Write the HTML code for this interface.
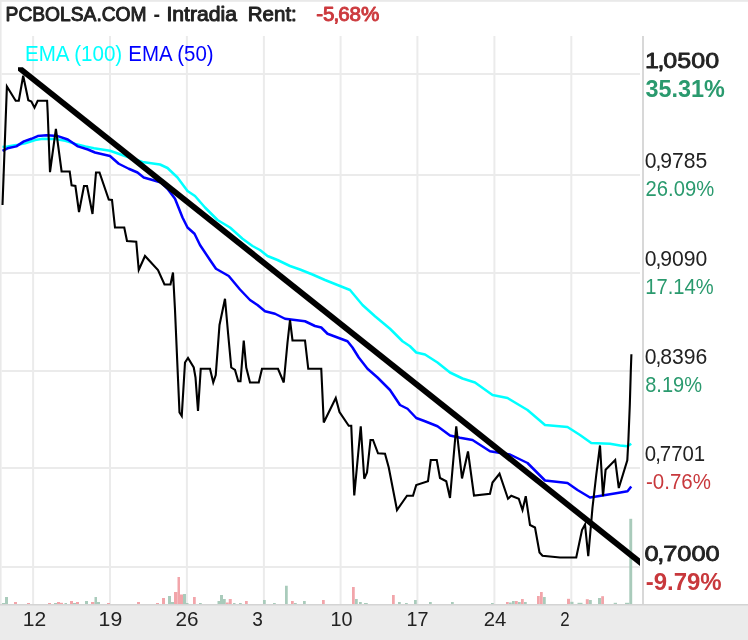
<!DOCTYPE html>
<html><head><meta charset="utf-8"><title>PCBOLSA.COM - Intradia</title>
<style>html,body{margin:0;padding:0;background:#fff;overflow:hidden}svg{display:block}</style></head>
<body>
<svg width="748" height="640" viewBox="0 0 748 640" font-family="'Liberation Sans', sans-serif">
<rect width="748" height="640" fill="#fff"/>
<rect x="0" y="0" width="748" height="1.8" fill="#e9e9e9"/>
<rect x="0" y="0" width="1.6" height="605" fill="#e9e9e9"/>
<g stroke="#ebebeb" stroke-width="2" fill="none">
<line x1="33.1" y1="36" x2="33.1" y2="604.5"/>
<line x1="110" y1="36" x2="110" y2="604.5"/>
<line x1="186.9" y1="36" x2="186.9" y2="604.5"/>
<line x1="263.9" y1="36" x2="263.9" y2="604.5"/>
<line x1="340.6" y1="36" x2="340.6" y2="604.5"/>
<line x1="417.4" y1="36" x2="417.4" y2="604.5"/>
<line x1="494.4" y1="36" x2="494.4" y2="604.5"/>
<line x1="571.3" y1="36" x2="571.3" y2="604.5"/>
<line x1="1.6" y1="74.1" x2="640" y2="74.1"/>
<line x1="1.6" y1="175.0" x2="640" y2="175.0"/>
<line x1="1.6" y1="273.0" x2="640" y2="273.0"/>
<line x1="1.6" y1="371.0" x2="640" y2="371.0"/>
<line x1="1.6" y1="467.9" x2="640" y2="467.9"/>
<line x1="1.6" y1="567.0" x2="640" y2="567.0"/>
</g>
<g>
<rect x="2" y="603" width="3" height="1.5" fill="#a9cbbb"/>
<rect x="5" y="597" width="3" height="7.5" fill="#a9cbbb"/>
<rect x="14" y="602" width="3" height="2.5" fill="#f2a5aa"/>
<rect x="27" y="603" width="3" height="1.5" fill="#f2a5aa"/>
<rect x="48" y="603" width="3" height="1.5" fill="#f2a5aa"/>
<rect x="54" y="603" width="3" height="1.5" fill="#a9cbbb"/>
<rect x="57" y="602" width="3" height="2.5" fill="#f2a5aa"/>
<rect x="60" y="602.8" width="3" height="1.7" fill="#f2a5aa"/>
<rect x="64.5" y="603" width="2.5" height="1.5" fill="#a9cbbb"/>
<rect x="70" y="601" width="3" height="3.5" fill="#f2a5aa"/>
<rect x="73" y="603" width="3" height="1.5" fill="#a9cbbb"/>
<rect x="76" y="602" width="3" height="2.5" fill="#f2a5aa"/>
<rect x="85" y="601" width="3" height="3.5" fill="#a9cbbb"/>
<rect x="91" y="602" width="3.5" height="2.5" fill="#f2a5aa"/>
<rect x="94.5" y="597" width="2.5" height="7.5" fill="#a9cbbb"/>
<rect x="97" y="602" width="3" height="2.5" fill="#a9cbbb"/>
<rect x="107" y="603" width="3" height="1.5" fill="#f2a5aa"/>
<rect x="137" y="602" width="3" height="2.5" fill="#f2a5aa"/>
<rect x="156" y="603" width="3" height="1.5" fill="#f2a5aa"/>
<rect x="162" y="598" width="3" height="6.5" fill="#f2a5aa"/>
<rect x="168" y="596" width="3" height="8.5" fill="#a9cbbb"/>
<rect x="171" y="602" width="3" height="2.5" fill="#a9cbbb"/>
<rect x="174" y="592" width="3.5" height="12.5" fill="#f2a5aa"/>
<rect x="177.5" y="577" width="2.5" height="27.5" fill="#f2a5aa"/>
<rect x="180" y="594.5" width="3" height="10" fill="#f2a5aa"/>
<rect x="183" y="594" width="3" height="10.5" fill="#a9cbbb"/>
<rect x="186" y="603" width="2.5" height="1.5" fill="#a9cbbb"/>
<rect x="193" y="597" width="2.75" height="7.5" fill="#f2a5aa"/>
<rect x="199" y="603" width="2.75" height="1.5" fill="#a9cbbb"/>
<rect x="217.5" y="601" width="2.5" height="3.5" fill="#a9cbbb"/>
<rect x="220" y="595" width="3" height="9.5" fill="#a9cbbb"/>
<rect x="223" y="599" width="2.75" height="5.5" fill="#a9cbbb"/>
<rect x="225.75" y="602.5" width="3" height="2" fill="#f2a5aa"/>
<rect x="228.75" y="599" width="3" height="5.5" fill="#f2a5aa"/>
<rect x="233" y="603" width="2.5" height="1.5" fill="#a9cbbb"/>
<rect x="239" y="603" width="2.75" height="1.5" fill="#a9cbbb"/>
<rect x="245" y="601" width="2.75" height="3.5" fill="#f2a5aa"/>
<rect x="263" y="600" width="2.75" height="4.5" fill="#a9cbbb"/>
<rect x="273" y="603" width="2.75" height="1.5" fill="#a9cbbb"/>
<rect x="285" y="585.75" width="2.75" height="18.75" fill="#a9cbbb"/>
<rect x="291" y="601" width="2.75" height="3.5" fill="#f2a5aa"/>
<rect x="294" y="603" width="2.75" height="1.5" fill="#a9cbbb"/>
<rect x="303" y="601" width="2.75" height="3.5" fill="#a9cbbb"/>
<rect x="322" y="600" width="2.75" height="4.5" fill="#f2a5aa"/>
<rect x="352" y="587" width="2.75" height="17.5" fill="#f2a5aa"/>
<rect x="355" y="599" width="2.75" height="5.5" fill="#a9cbbb"/>
<rect x="359" y="602" width="2.75" height="2.5" fill="#a9cbbb"/>
<rect x="364" y="603" width="3" height="1.5" fill="#a9cbbb"/>
<rect x="365" y="603" width="2.75" height="1.5" fill="#a9cbbb"/>
<rect x="392" y="595" width="2.75" height="9.5" fill="#f2a5aa"/>
<rect x="398" y="602" width="2.75" height="2.5" fill="#a9cbbb"/>
<rect x="405" y="603" width="2.75" height="1.5" fill="#a9cbbb"/>
<rect x="414" y="600" width="2.75" height="4.5" fill="#a9cbbb"/>
<rect x="429" y="602" width="2.75" height="2.5" fill="#a9cbbb"/>
<rect x="451" y="602" width="2.75" height="2.5" fill="#a9cbbb"/>
<rect x="491" y="603" width="2.75" height="1.5" fill="#a9cbbb"/>
<rect x="506" y="602" width="2.75" height="2.5" fill="#f2a5aa"/>
<rect x="509" y="602.5" width="2.75" height="2" fill="#a9cbbb"/>
<rect x="512" y="601" width="2.75" height="3.5" fill="#a9cbbb"/>
<rect x="515" y="601" width="2.75" height="3.5" fill="#f2a5aa"/>
<rect x="518" y="602" width="2.75" height="2.5" fill="#a9cbbb"/>
<rect x="521" y="599" width="2.75" height="5.5" fill="#f2a5aa"/>
<rect x="524" y="602" width="2.75" height="2.5" fill="#a9cbbb"/>
<rect x="537" y="596" width="2.75" height="8.5" fill="#f2a5aa"/>
<rect x="540" y="592" width="2.75" height="12.5" fill="#f2a5aa"/>
<rect x="543" y="597" width="2.75" height="7.5" fill="#a9cbbb"/>
<rect x="567" y="598.8" width="3" height="5.7" fill="#f2a5aa"/>
<rect x="570.3" y="601.8" width="3.2" height="2.7" fill="#a9cbbb"/>
<rect x="577.5" y="602.8" width="5" height="1.7" fill="#a9cbbb"/>
<rect x="585.8" y="599.2" width="3" height="5.3" fill="#f2a5aa"/>
<rect x="588.8" y="600" width="3" height="4.5" fill="#a9cbbb"/>
<rect x="598" y="598" width="3.2" height="6.5" fill="#a9cbbb"/>
<rect x="601.2" y="596.2" width="2.8" height="8.3" fill="#f2a5aa"/>
<rect x="613.7" y="602.8" width="3.3" height="1.7" fill="#a9cbbb"/>
<rect x="625" y="602.8" width="4.3" height="1.7" fill="#a9cbbb"/>
<rect x="629.3" y="518.8" width="2.9" height="85.7" fill="#a9cbbb"/>
</g>
<text x="25" y="60.7" font-size="21.6" fill="#00ffff" textLength="97.2" lengthAdjust="spacingAndGlyphs">EMA (100)</text>
<text x="128.3" y="60.7" font-size="21.6" fill="#0000ff" textLength="85.3" lengthAdjust="spacingAndGlyphs">EMA (50)</text>
<polyline points="2.5,147 7.5,146.4 16.3,145.1 25.1,143.2 35.2,140.1 42.7,138.8 55.3,139.1 65.3,140.7 75.4,143.9 85.4,146.4 94,148.3 110,150.75 125,156 142.5,162 160,164.5 167.5,168 177.5,177.5 187.5,191 195,196 205,207.5 217.5,220 230,227.5 242.5,238.75 252.5,246 260,250 267.5,256 277.5,260 290,266 300,269.5 312.5,274.5 325,280 337.5,285 350,290 362.5,305 375,316.25 390,328.75 402.5,341.25 410,346.25 416.25,352.5 425,354.5 437.5,362.5 450,372.5 462.5,378.5 475,382.5 492.5,395 507.5,398 527.5,410 545,425 567.5,427 580,435 591.25,443 610,443.75 620,445.5 627.5,446.25 631.25,443.75" fill="none" stroke="#00ffff" stroke-width="2.5" stroke-linejoin="round"/>
<polyline points="2.5,150.8 7.5,148.3 16.3,146.4 23.9,141.4 31.4,138.8 37.7,136.1 46.5,135.3 57.8,136.1 67.8,139.5 77.9,146.4 87.9,149.5 95,152.5 110,156 118.75,163.75 128.75,168.75 137.5,172.5 143.75,177.5 152.5,180 161,182.5 167.5,188.75 175,198.75 182.5,217.5 187.5,227.5 194.5,233.75 200,245 210,260 216,268.75 228.75,276 240,289.5 250,300 257.5,305 265,311.25 275,313.75 285,318.75 295,320 305,321.25 315,326 321.25,327.5 327.5,333.75 337.5,337.5 347.5,341.25 352.5,347.5 358.75,357.5 367.5,368.75 377.5,377.5 390,390 400,405 407.5,408.75 416.25,418 425,421.25 437.5,426.25 450,435.5 460,437.75 472.5,440 490,451.25 510,454.5 527.5,463 545,480.5 567.5,483 577.5,490 590,497.5 602.5,495.5 617.5,493 627.5,491.25 631.25,486.5" fill="none" stroke="#0000ff" stroke-width="2.5" stroke-linejoin="round"/>
<polyline points="2.5,205 6.9,86.4 15.7,100.8 18.8,100.8 23.2,75.7 28.3,100.2 31.4,101.5 34.5,107.7 37.7,100.8 47.1,100.8 47.7,112.8 50,172.1 55.9,128.8 61.6,171.5 69.7,171.5 71.6,185.3 75.4,186 79,212 84,186 87,186 92.5,214 96,172.5 99.5,172.5 108.75,199.5 112,200 115,227.5 124.25,227.5 127,241 136.25,241.75 138.75,270 145,256 158,270 164.5,284.5 170.5,284.5 173,272.5 175,310 177.5,367.5 179.5,412.5 181.75,416 185,362.5 188,358 193.75,367.5 195.5,377.5 198,411 200.75,368.75 210,368.75 213.25,382.5 215.75,375 219.5,325 225,298.75 228,332.5 231.25,367.5 235,370 238.25,381.25 240.5,381.25 243.75,340.5 246.25,367.5 250,382.5 258.75,382.5 262,368.75 278,368.75 283.75,382.5 287.5,342.5 290,320 292.5,340.5 305,340.5 308.25,368.75 321.25,368.75 323.75,422.5 335.75,398 339.5,412 348.75,425.75 351.25,425.75 354.25,495.5 360.75,426.25 364.25,478.75 367,472.5 370.5,440 373,440 378,453.25 385,453.75 388.75,467.5 397,510 407,495.75 413,495.75 416.25,485 428,481.25 430.75,460 436.75,460 440,478 446.25,481.25 450,498 456.25,426.25 462,478.5 468,451.5 474,495.6 490,493.75 492.5,482.5 499.5,473.75 508,498.75 511.25,495.75 518.75,498.75 522.5,510 525.75,496.25 530,525 535,527.5 539.5,552.5 542.5,555.75 560,557.5 576.25,557.5 582,530 585,524.5 588.25,556.25 592.5,507.5 596.25,475 600,445.5 603,496.25 605.6,469.8 615.2,460 618.8,488 627.3,460.4 628.4,440 629.8,405 630.8,371 631.4,354.25" fill="none" stroke="#000" stroke-width="2.1" stroke-linejoin="miter"/>
<polygon points="18,67.2 22.8,67.2 640,558.5 640,565.9 18,70.8" fill="#000"/>
<rect x="642.2" y="36" width="1.6" height="569" fill="#cfcfcf"/>
<rect x="0" y="604" width="748" height="36" fill="#ebebeb"/>
<rect x="0" y="604" width="748" height="1.5" fill="#d4d4d4"/>
<text x="22.7" y="625.9" font-size="21" fill="#222" textLength="23.4" lengthAdjust="spacingAndGlyphs">12</text>
<text x="98.6" y="625.9" font-size="21" fill="#222" textLength="23.6" lengthAdjust="spacingAndGlyphs">19</text>
<text x="175.5" y="625.9" font-size="21" fill="#222" textLength="23" lengthAdjust="spacingAndGlyphs">26</text>
<text x="252.2" y="625.9" font-size="21" fill="#222" textLength="10.6" lengthAdjust="spacingAndGlyphs">3</text>
<text x="330.4" y="625.9" font-size="21" fill="#222" textLength="22" lengthAdjust="spacingAndGlyphs">10</text>
<text x="406.4" y="625.9" font-size="21" fill="#222" textLength="22" lengthAdjust="spacingAndGlyphs">17</text>
<text x="483.7" y="625.9" font-size="21" fill="#222" textLength="22.6" lengthAdjust="spacingAndGlyphs">24</text>
<text x="560.3" y="625.9" font-size="21" fill="#222" textLength="9.4" lengthAdjust="spacingAndGlyphs">2</text>
<text x="5.6" y="21.35" font-size="19.6" stroke-width="0.95" stroke-linejoin="round" stroke="#222" fill="#222" textLength="141" lengthAdjust="spacingAndGlyphs">PCBOLSA.COM</text>
<text x="153.4" y="21.35" font-size="19.7" font-weight="bold" fill="#222">-</text>
<text x="166.4" y="21.35" font-size="19.6" stroke-width="0.95" stroke-linejoin="round" stroke="#222" fill="#222" textLength="70.6" lengthAdjust="spacingAndGlyphs">Intradia</text>
<text x="247.8" y="21.35" font-size="19.6" stroke-width="0.95" stroke-linejoin="round" stroke="#222" fill="#222" textLength="49" lengthAdjust="spacingAndGlyphs">Rent:</text>
<text x="316.2" y="21.35" font-size="19.6" stroke-width="0.95" stroke-linejoin="round" stroke="#cc3a3e" fill="#cc3a3e" textLength="63.2" lengthAdjust="spacingAndGlyphs">-5<tspan dx="-1">,</tspan><tspan dx="-1">68%</tspan></text>
<text x="644.9" y="67.9" font-size="21.9" stroke="#222" stroke-width="0.8" stroke-linejoin="round" fill="#222" textLength="74.2" lengthAdjust="spacingAndGlyphs">1<tspan dx="-1.09">,</tspan><tspan dx="-1.09">0500</tspan></text>
<text x="645.4" y="96.8" font-size="23.6" font-weight="bold" fill="#2a9a6e" textLength="79.4" lengthAdjust="spacingAndGlyphs">35.31%</text>
<text x="644.8" y="167.7" font-size="21.2" fill="#222" textLength="62.6" lengthAdjust="spacingAndGlyphs">0<tspan dx="-1.06">,</tspan><tspan dx="-1.06">9785</tspan></text>
<text x="645.6" y="196.0" font-size="21.2" fill="#2a9a6e" textLength="68.6" lengthAdjust="spacingAndGlyphs">26.09%</text>
<text x="644.8" y="266.2" font-size="21.2" fill="#222" textLength="62.6" lengthAdjust="spacingAndGlyphs">0<tspan dx="-1.06">,</tspan><tspan dx="-1.06">9090</tspan></text>
<text x="645.3" y="294.2" font-size="21.2" fill="#2a9a6e" textLength="68.4" lengthAdjust="spacingAndGlyphs">17.14%</text>
<text x="644.8" y="363.8" font-size="21.2" fill="#222" textLength="62.6" lengthAdjust="spacingAndGlyphs">0<tspan dx="-1.06">,</tspan><tspan dx="-1.06">8396</tspan></text>
<text x="645.2" y="392.0" font-size="21.2" fill="#2a9a6e" textLength="56.8" lengthAdjust="spacingAndGlyphs">8.19%</text>
<text x="644.8" y="461.3" font-size="21.2" fill="#222" textLength="60.4" lengthAdjust="spacingAndGlyphs">0<tspan dx="-1.06">,</tspan><tspan dx="-1.06">7701</tspan></text>
<text x="646.0" y="489.0" font-size="21.2" fill="#c8383c" textLength="64.9" lengthAdjust="spacingAndGlyphs">-0.76%</text>
<text x="644.5" y="561.1" font-size="21.8" stroke="#222" stroke-width="0.8" stroke-linejoin="round" fill="#222" textLength="75.2" lengthAdjust="spacingAndGlyphs">0<tspan dx="-1.09">,</tspan><tspan dx="-1.09">7000</tspan></text>
<text x="645.7" y="589.9" font-size="23.6" font-weight="bold" fill="#c8383c" textLength="76.0" lengthAdjust="spacingAndGlyphs">-9.79%</text>
</svg>
</body></html>
